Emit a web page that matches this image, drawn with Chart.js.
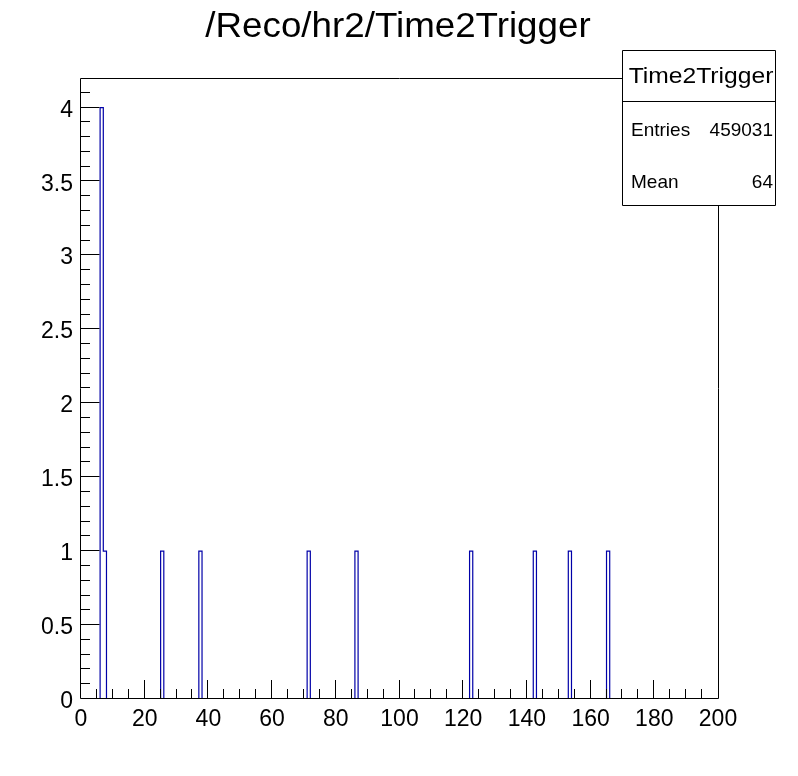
<!DOCTYPE html>
<html>
<head>
<meta charset="utf-8">
<script src="https://cdn.jsdelivr.net/npm/chart.js@4/dist/chart.umd.min.js"></script>
<style>
  html, body { margin: 0; padding: 0; background: #ffffff; }
  #wrap { width: 798px; height: 776px; position: relative; }
</style>
</head>
<body>
<div id="wrap"><canvas id="c" width="798" height="776"></canvas></div>
<script>
// ---- data ----
const histTitle = "/Reco/hr2/Time2Trigger";
const statsName = "Time2Trigger";
const statsEntries = "459031";
const statsMean = "64";
const binLow = [6, 7, 25, 37, 71, 86, 122, 142, 153, 165];
const binWidth = 1;
const binCounts = [4, 1, 1, 1, 1, 1, 1, 1, 1, 1];
const xTickValues = [0, 20, 40, 60, 80, 100, 120, 140, 160, 180, 200];
const yTickValues = [0, 0.5, 1, 1.5, 2, 2.5, 3, 3.5, 4];
const xRange = [0, 200];
const yRange = [0, 4.2];

// build histogram outline points from the bins
const outline = [{x: xRange[0], y: 0}];
for (let i = 0; i < binLow.length; i++) {
  const lo = binLow[i], hi = lo + binWidth, c = binCounts[i];
  const prevContig = i > 0 && binLow[i - 1] + binWidth === lo;
  outline.push({x: lo, y: prevContig ? binCounts[i - 1] : 0});
  outline.push({x: lo, y: c});
  outline.push({x: hi, y: c});
  const nextContig = i < binLow.length - 1 && binLow[i + 1] === hi;
  if (!nextContig) outline.push({x: hi, y: 0});
}
outline.push({x: xRange[1], y: 0});

const FONT = "'Liberation Sans', Arial, Helvetica, sans-serif";

function stretchText(ctx, text, x, y, size, sx, align) {
  ctx.save();
  ctx.font = size + "px " + FONT;
  const w = ctx.measureText(text).width * sx;
  let left = x;
  if (align === 'center') left = x - w / 2;
  else if (align === 'right') left = x - w;
  ctx.translate(left, y);
  ctx.scale(sx, 1);
  ctx.textAlign = 'left';
  ctx.fillText(text, 0, 0);
  ctx.restore();
}

const rootPlugin = {
  id: 'rootStyle',
  afterDatasetsDraw(chart) {
    const ctx = chart.ctx;
    const a = chart.chartArea;
    const xs = chart.scales.x, ys = chart.scales.y;
    ctx.save();
    ctx.strokeStyle = '#000';
    ctx.lineWidth = 1;
    // frame
    const L = Math.floor(a.left) - 0.5, R = Math.floor(a.right) + 0.5;
    const T = Math.floor(a.top) + 0.5, B = Math.floor(a.bottom) - 0.5;
    ctx.beginPath();
    ctx.rect(L, T, R - L, B - T);
    ctx.stroke();
    // ticks (major + minor, drawn inside the frame)
    ctx.beginPath();
    const yStep = yTickValues[1] - yTickValues[0];
    for (let v = yRange[0] + yStep / 5; v < yRange[1] - 1e-6; v += yStep / 5) {
      const p = Math.round(ys.getPixelForValue(v)) - 0.5;
      const isMajor = yTickValues.some(t => Math.abs(t - v) < 1e-6);
      const len = isMajor ? 19 : 9.5;
      ctx.moveTo(L, p);
      ctx.lineTo(L + len, p);
    }
    const xStep = xTickValues[1] - xTickValues[0];
    for (let v = xRange[0] + xStep / 4; v < xRange[1] - 1e-6; v += xStep / 4) {
      const p = Math.round(xs.getPixelForValue(v)) - 0.5;
      const isMajor = xTickValues.some(t => Math.abs(t - v) < 1e-6);
      const len = isMajor ? 18.5 : 9.5;
      ctx.moveTo(p, B);
      ctx.lineTo(p, B - len);
    }
    ctx.stroke();
    // tick labels
    ctx.fillStyle = '#000';
    ctx.textBaseline = 'alphabetic';
    yTickValues.forEach(v => {
      const p = ys.getPixelForValue(v);
      stretchText(ctx, String(v), 73, p + 9, 23, 1.0, 'right');
    });
    xTickValues.forEach(v => {
      const p = xs.getPixelForValue(v);
      stretchText(ctx, String(v), p, 726, 23, 1.0, 'center');
    });
    // title
    stretchText(ctx, histTitle, 398, 37, 35, 1.05, 'center');
    // stats box
    ctx.fillStyle = '#fff';
    ctx.fillRect(622, 50, 154, 156);
    ctx.beginPath();
    ctx.rect(622.5, 50.5, 153, 155);
    ctx.moveTo(622.5, 101.5);
    ctx.lineTo(775.5, 101.5);
    ctx.stroke();
    ctx.fillStyle = '#000';
    stretchText(ctx, statsName, 701, 83, 22, 1.12, 'center');
    stretchText(ctx, 'Entries', 631, 136, 19, 1.0, 'left');
    stretchText(ctx, statsEntries, 773, 136, 19, 1.0, 'right');
    stretchText(ctx, 'Mean', 631, 188, 19, 1.0, 'left');
    stretchText(ctx, statsMean, 773, 188, 19, 1.0, 'right');
    ctx.restore();
  }
};

new Chart(document.getElementById('c'), {
  type: 'line',
  data: {
    datasets: [{
      label: statsName,
      data: outline,
      borderColor: '#0000a8',
      borderWidth: 1.2,
      pointRadius: 0,
      fill: false,
      tension: 0
    }]
  },
  options: {
    responsive: false,
    animation: false,
    devicePixelRatio: 1,
    layout: { padding: { top: 78, right: 80, bottom: 0, left: 0 } },
    plugins: { legend: { display: false }, tooltip: { enabled: false }, title: { display: false } },
    scales: {
      x: {
        type: 'linear', min: xRange[0], max: xRange[1],
        grid: { display: false }, border: { display: false },
        ticks: { display: false },
        afterBuildTicks: s => { s.ticks = xTickValues.map(v => ({ value: v })); },
        afterFit: s => { s.height = 77; }
      },
      y: {
        type: 'linear', min: yRange[0], max: yRange[1],
        grid: { display: false }, border: { display: false },
        ticks: { display: false },
        afterBuildTicks: s => { s.ticks = yTickValues.map(v => ({ value: v })); },
        afterFit: s => { s.width = 81; }
      }
    }
  },
  plugins: [rootPlugin]
});
</script>
</body>
</html>
